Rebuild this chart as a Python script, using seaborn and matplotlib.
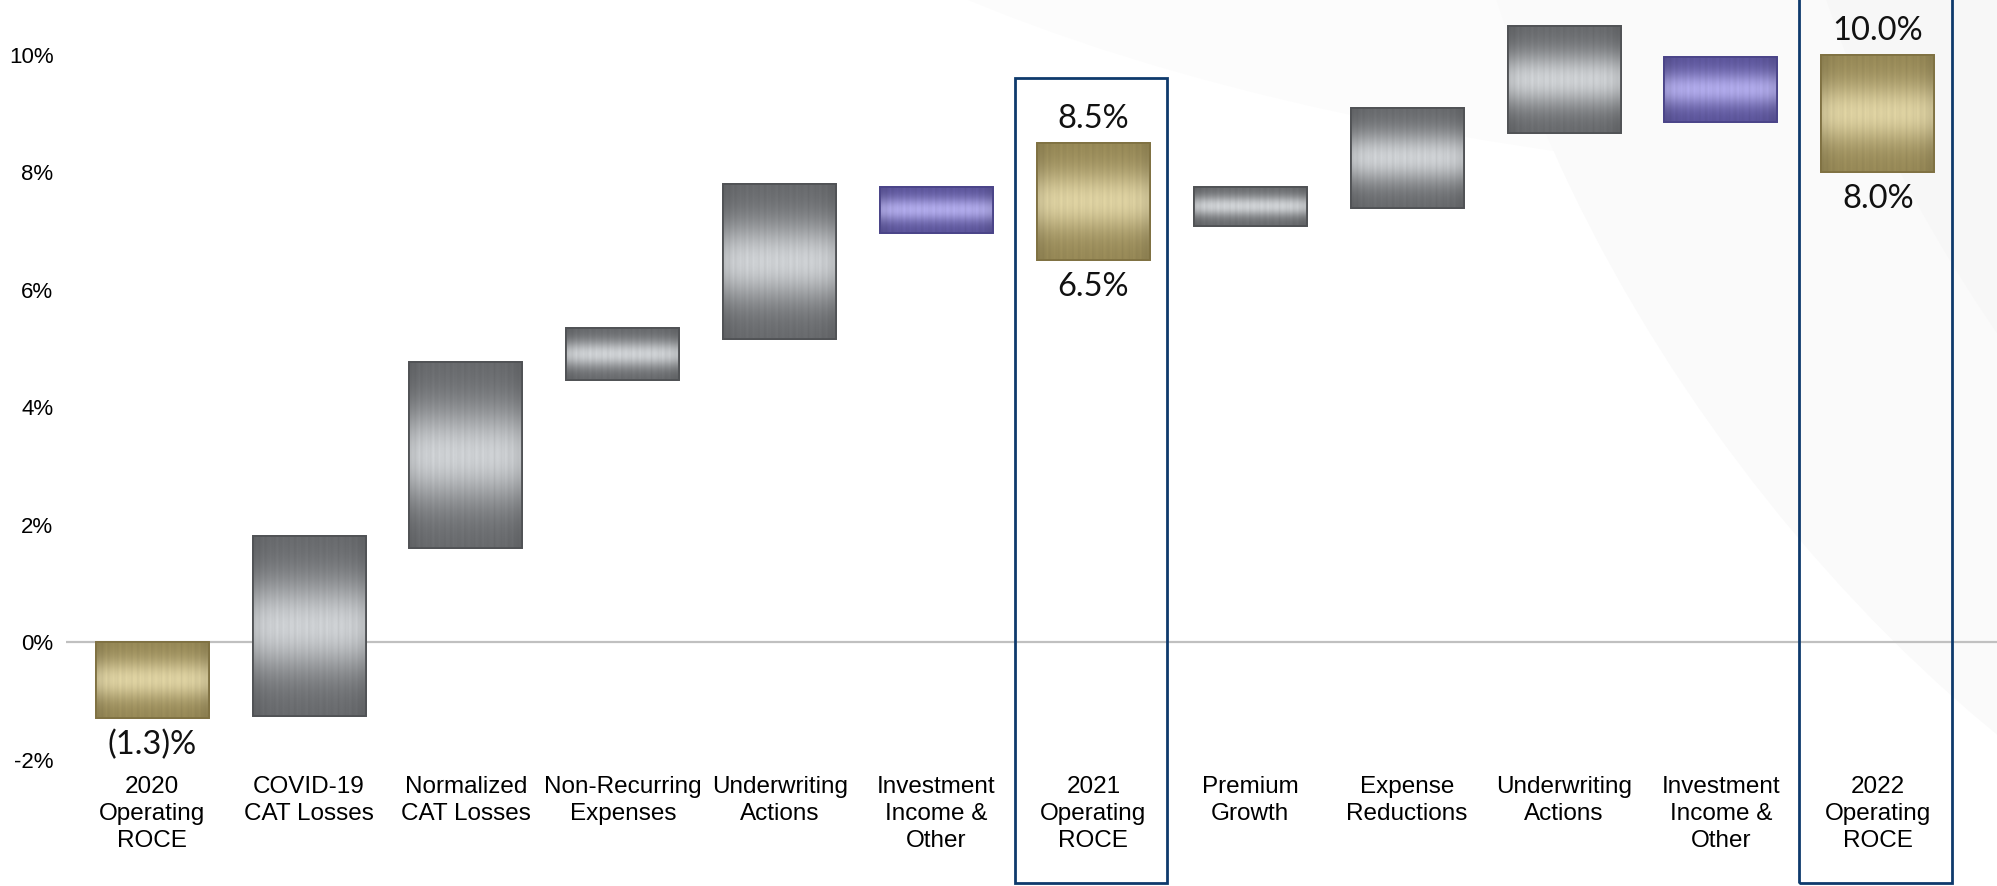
import numpy as np
import pandas as pd
import matplotlib
matplotlib.use("Agg")
import matplotlib.pyplot as plt
import seaborn as sns
from matplotlib.patches import Rectangle, Ellipse
from matplotlib.colors import to_rgb

# ---------------- data ----------------
categories = [
    "2020\nOperating\nROCE", "COVID-19\nCAT Losses", "Normalized\nCAT Losses",
    "Non-Recurring\nExpenses", "Underwriting\nActions", "Investment\nIncome &\nOther",
    "2021\nOperating\nROCE", "Premium\nGrowth", "Expense\nReductions",
    "Underwriting\nActions", "Investment\nIncome &\nOther", "2022\nOperating\nROCE",
]
bar_low = [-1.3, -1.25, 1.60, 4.47, 5.16, 6.96, 6.5, 7.08, 7.39, 8.67, 8.85, 8.0]
bar_high = [0.0, 1.81, 4.76, 5.34, 7.79, 7.75, 8.5, 7.75, 9.10, 10.49, 9.96, 10.0]
bar_kind = ["total", "driver", "driver", "driver", "driver", "investment",
            "total", "driver", "driver", "driver", "investment", "total"]
top_labels = ["", "", "", "", "", "", "8.5%", "", "", "", "", "10.0%"]
bottom_labels = ["(1.3)%", "", "", "", "", "", "6.5%", "", "", "", "", "8.0%"]
highlight_idx = [6, 11]
highlight_top = [9.61, 11.3]
ytick_values = [-2, 0, 2, 4, 6, 8, 10]
ytick_labels = ["-2%", "0%", "2%", "4%", "6%", "8%", "10%"]

# ---------------- style ----------------
colors = {
    "driver": {"dark": "#66686b", "light": "#cdd0d3", "edge": "#505255"},
    "total": {"dark": "#958755", "light": "#dcd0a0", "edge": "#7f7142"},
    "investment": {"dark": "#5a5399", "light": "#aea8e8", "edge": "#4a4488"},
}

sns.set_theme(style="white")
plt.rcParams["font.family"] = ["Liberation Sans", "DejaVu Sans"]

fig = plt.figure(figsize=(19.97, 8.86), dpi=100)
fig.patch.set_facecolor("white")

# subtle background swooshes
bg = fig.add_axes([0, 0, 1, 1], zorder=-10)
bg.set_xlim(0, 1)
bg.set_ylim(0, 1)
bg.axis("off")
for (cx, cy, w, h, ang, fc) in [
    (0.95, 1.30, 1.30, 1.0, -15, "#fcfcfc"),
    (1.08, 0.85, 0.60, 1.9, 12, "#fafafa"),
    (1.12, 0.75, 0.30, 1.3, 15, "#f7f7f7"),
]:
    bg.add_patch(Ellipse((cx, cy), w, h, angle=ang, facecolor=fc, edgecolor="none"))

ax = fig.add_axes([0.033, 0.1261, 0.967, 0.8739])
ax.patch.set_alpha(0)

df = pd.DataFrame({
    "pos": list(range(len(categories))),
    "height": [h - l for h, l in zip(bar_high, bar_low)],
})
sns.barplot(data=df, x="pos", y="height", bottom=bar_low, width=0.72,
            color="#999999", errorbar=None, ax=ax, zorder=3)

XLIM = (-0.55, 11.76)
YLIM = (-2.25, 10.93)

# brushed-metal gradient fill for each bar
ny, nx = 200, 80
t = np.linspace(0, 1, ny)[:, None]
band = np.exp(-((t - 0.5) / 0.26) ** 2)
xs = np.linspace(0, 1, nx)[None, :]
streak = (0.018 * np.sin(xs * 97.0) + 0.014 * np.sin(xs * 211.0 + 1.3)
          + 0.010 * np.sin(xs * 353.0 + 0.7))
edge_dark = 1 - 0.10 * (np.abs(xs - 0.5) * 2) ** 6
for patch, kind in zip(ax.patches, bar_kind):
    c = colors[kind]
    d = np.array(to_rgb(c["dark"]))
    l = np.array(to_rgb(c["light"]))
    mix = band[:, :, None]
    img = d[None, None, :] + (l - d)[None, None, :] * mix
    img = img * (1 + streak[:, :, None]) * edge_dark[:, :, None]
    img = np.clip(img, 0, 1)
    x0, y0 = patch.get_x(), patch.get_y()
    w, h = patch.get_width(), patch.get_height()
    patch.set_facecolor(c["dark"])
    patch.set_edgecolor(c["edge"])
    patch.set_linewidth(1.3)
    im = ax.imshow(img, extent=[x0, x0 + w, y0, y0 + h], aspect="auto",
                   origin="lower", interpolation="bilinear", zorder=3.5)
    im.set_clip_path(patch)
    ax.add_patch(Rectangle((x0, y0), w, h, fill=False, edgecolor=c["edge"],
                           linewidth=1.3, zorder=3.6))

ax.axhline(0, color="#c0c0c0", lw=1.6, zorder=1)

# highlight boxes
for i, top in zip(highlight_idx, highlight_top):
    ax.add_patch(Rectangle((i - 0.5, -4.1), 0.97, top + 4.1, fill=False,
                           edgecolor="#0e3a6c", linewidth=2.0, clip_on=False,
                           zorder=5))

# value labels
vfont = ["Lato", "DejaVu Sans"]
for i, (tl, bl) in enumerate(zip(top_labels, bottom_labels)):
    if tl:
        ax.annotate(tl, (i, bar_high[i]), xytext=(0, 17), textcoords="offset points",
                    ha="center", va="center", fontsize=23.5, family=vfont,
                    fontweight="normal", color="#111111", zorder=6)
    if bl:
        ax.annotate(bl, (i, bar_low[i]), xytext=(0, -19), textcoords="offset points",
                    ha="center", va="center", fontsize=23.5, family=vfont,
                    fontweight="normal", color="#111111", zorder=6)

ax.set_xlim(*XLIM)
ax.set_ylim(*YLIM)
ax.set_xticks(range(len(categories)))
ax.set_xticklabels(categories, fontsize=17.5, color="black", linespacing=1.28)
ax.set_yticks(ytick_values)
ax.set_yticklabels(ytick_labels, fontsize=16, color="black")
ax.tick_params(axis="x", length=0, pad=1.5)
ax.tick_params(axis="y", length=0, pad=9)
ax.set_xlabel("")
ax.set_ylabel("")
for s in ax.spines.values():
    s.set_visible(False)

fig.savefig("out.png", dpi=100, facecolor="white")
